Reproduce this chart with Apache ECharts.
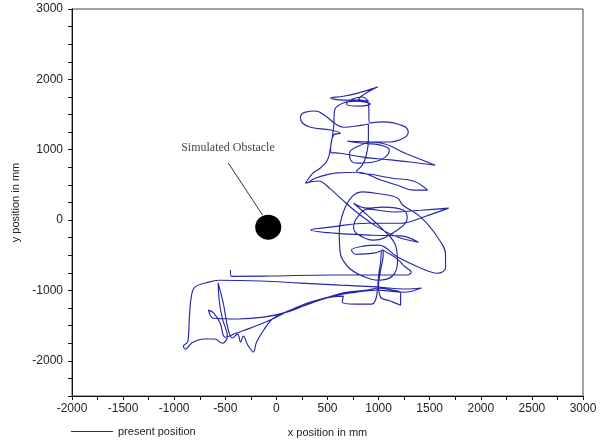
<!DOCTYPE html>
<html>
<head>
<meta charset="utf-8">
<script src="https://cdn.jsdelivr.net/npm/echarts@6/dist/echarts.min.js"></script>
<style>
  html, body { margin: 0; padding: 0; background: #ffffff; }
  #chart { width: 601px; height: 444px; }
</style>
</head>
<body>
<div id="chart"></div>
<script>
// Tick labels shown on each axis (ticks themselves run every 250 mm)
const xTickLabels = [-2000, -1500, -1000, -500, 0, 500, 1000, 1500, 2000, 2500, 3000];
const yTickLabels = [-2000, -1000, 0, 1000, 2000, 3000];

// Robot path, x/y in mm
const presentPosition = [
  [-450,-710],[-440,-800],[-60,-795],[530,-780],[1020,-780],[1280,-780],[1320,-740],[1250,-655],[1185,-555],[1095,-470],[1035,-425],
  [1020,-595],[1000,-795],[990,-965],[970,-1135],[930,-1195],[775,-1195],[645,-1165],[655,-1080],[530,-1095],[335,-1180],[110,-1305],
  [-125,-1380],[-380,-1405],[-615,-1395],[-665,-1280],[-615,-1320],[-550,-1465],[-500,-1665],[-390,-1605],[-255,-1535],[-60,-1420],
  [135,-1280],[335,-1165],[550,-1080],[725,-1035],[980,-995],[1245,-1025],[1420,-965],
  [1260,-980],[980,-950],[625,-925],[235,-895],[-155,-865],[-560,-855],[-695,-895],[-795,-950],[-830,-1065],[-850,-1350],[-860,-1635],
  [-870,-1735],[-910,-1790],[-890,-1835],[-830,-1750],[-715,-1690],[-605,-1690],[-530,-1750],[-480,-1650],[-530,-1395],[-560,-1135],
  [-570,-895],[-520,-1180],[-470,-1565],[-430,-1675],[-380,-1620],[-350,-1735],[-325,-1650],[-275,-1790],[-225,-1875],[-195,-1735],
  [-125,-1565],[-40,-1405],[90,-1305],[235,-1235],[430,-1135],[655,-1035],[890,-995],[1000,-965],[1135,-995],[1215,-1035],[1215,-1210],
  [1115,-1150],[1020,-1095],[1000,-925],[1020,-710],[1045,-495],[1045,-425],
  [950,-470],[775,-485],[735,-425],[850,-370],[1000,-355],
  [1185,-525],[1410,-680],[1575,-755],[1655,-680],[1655,-495],[1575,-240],[1410,45],[1235,215],[1185,315],[1020,370],[850,400],[745,340],
  [655,115],[615,-185],[625,-470],[705,-670],[840,-795],[1000,-855],[1135,-795],[1185,-595],[1165,-355],[1045,-140],[890,70],[755,240],
  [890,170],[1045,185],[1245,140],[1280,30],[1185,-140],[950,-285],[795,-200],[755,-100],[795,45],[890,155],
  [1145,115],[1410,140],[1685,170],[1460,55],[1215,-45],[890,-45],[530,-100],[335,-140],[560,-185],[950,-215],[1215,-225],[1390,-315],
  [1185,-240],[990,-100],[795,100],[625,315],[530,440],
  [410,555],[285,525],[305,570],[360,670],[430,740],[500,855],[530,1035],[560,1320],[570,1565],[655,1665],
  [775,1690],[920,1650],[820,1620],[685,1650],[745,1720],[840,1750],[900,1690],[785,1705],[655,1705],[530,1735],[655,1760],[795,1805],
  [990,1890],[880,1805],[805,1720],[900,1665],
  [910,1380],
  [1045,1395],[1245,1335],[1290,1250],[1245,1165],[1115,1110],[950,1110],[800,1050],[715,950],[725,855],[795,810],[950,825],[1065,895],[1105,995],
  [1020,1065],[820,1095],[695,1120],[1020,1095],[1260,950],
  [1555,780],[1310,825],[1115,855],[850,895],[625,950],[530,965],
  [560,1210],[625,1235],[530,1280],[335,1320],[255,1380],[235,1465],[285,1535],[380,1550],[480,1480],[580,1365],[655,1320],[840,1350],[900,1365],
  [900,1135],[880,925],[840,780],[785,695],
  [970,640],[1135,595],[1340,555],[1480,425],[1340,425],[1185,495],[1020,570],[795,680],[595,670],[380,595],[305,525]
];

// Obstacle and its callout, in mm
const obstacleCentre = [-80, -100];
const calloutLine = [[-470, 810], [-135, 70]];
const calloutAnchor = [-474, 1023];
const calloutText = 'Simulated Obstacle';

const axisFont = { fontFamily: 'Liberation Sans, Arial, sans-serif', fontSize: 12, color: '#222' };

const chart = echarts.init(document.getElementById('chart'), null, { renderer: 'canvas' });
chart.setOption({
  animation: false,
  backgroundColor: '#ffffff',
  grid: { left: 72, right: 18, top: 9, bottom: 48, show: true, borderColor: '#444', borderWidth: 1, backgroundColor: 'transparent' },
  legend: {
    data: [{ name: 'present position', icon: 'rect' }],
    left: 66, top: 421,
    itemWidth: 42, itemHeight: 1.2, itemGap: 8,
    itemStyle: { color: '#28289a' },
    textStyle: { fontFamily: 'Liberation Sans, Arial, sans-serif', fontSize: 11, color: '#222' }
  },
  xAxis: {
    type: 'value', min: -2000, max: 3000, interval: 250,
    name: 'x position in mm', nameLocation: 'middle', nameGap: 31,
    nameTextStyle: { fontFamily: 'Liberation Sans, Arial, sans-serif', fontSize: 11, color: '#222' },
    axisLine: { show: true, onZero: false, lineStyle: { color: '#111', width: 1 } },
    axisTick: { show: true, inside: false, length: 4, lineStyle: { color: '#111' } },
    splitLine: { show: false },
    axisLabel: Object.assign({ margin: 7, interval: 0,
      formatter: v => xTickLabels.includes(v) ? String(v) : '' }, axisFont)
  },
  yAxis: {
    type: 'value', min: -2500, max: 3000, interval: 250,
    name: 'y position in mm', nameLocation: 'middle', nameGap: 48,
    nameTextStyle: { fontFamily: 'Liberation Sans, Arial, sans-serif', fontSize: 11, color: '#222' },
    axisLine: { show: true, onZero: false, lineStyle: { color: '#111', width: 1 } },
    axisTick: { show: true, inside: false, length: 4, lineStyle: { color: '#111' } },
    splitLine: { show: false },
    axisLabel: Object.assign({ margin: 9, interval: 0,
      formatter: v => yTickLabels.includes(v) ? String(v) : '' }, axisFont)
  },
  series: [
    {
      name: 'present position',
      type: 'line',
      data: presentPosition,
      symbol: 'none',
      smooth: 0.4,
      lineStyle: { color: '#2626a8', width: 1.15 },
      itemStyle: { color: '#2626a8' },
      z: 3
    },
    {
      name: 'callout',
      type: 'line',
      data: calloutLine,
      symbol: 'none',
      silent: true,
      lineStyle: { color: '#333', width: 1 },
      z: 2
    },
    {
      name: 'obstacle',
      type: 'scatter',
      data: [obstacleCentre],
      symbol: 'circle',
      symbolSize: [26, 25],
      itemStyle: { color: '#000', opacity: 1 },
      silent: true,
      z: 4
    },
    {
      name: 'calloutLabel',
      type: 'scatter',
      data: [calloutAnchor],
      symbolSize: 0,
      silent: true,
      label: {
        show: true, position: 'inside', formatter: calloutText,
        fontFamily: 'Liberation Serif, Times New Roman, serif', fontSize: 12, color: '#111'
      }
    }
  ]
});
</script>
</body>
</html>
